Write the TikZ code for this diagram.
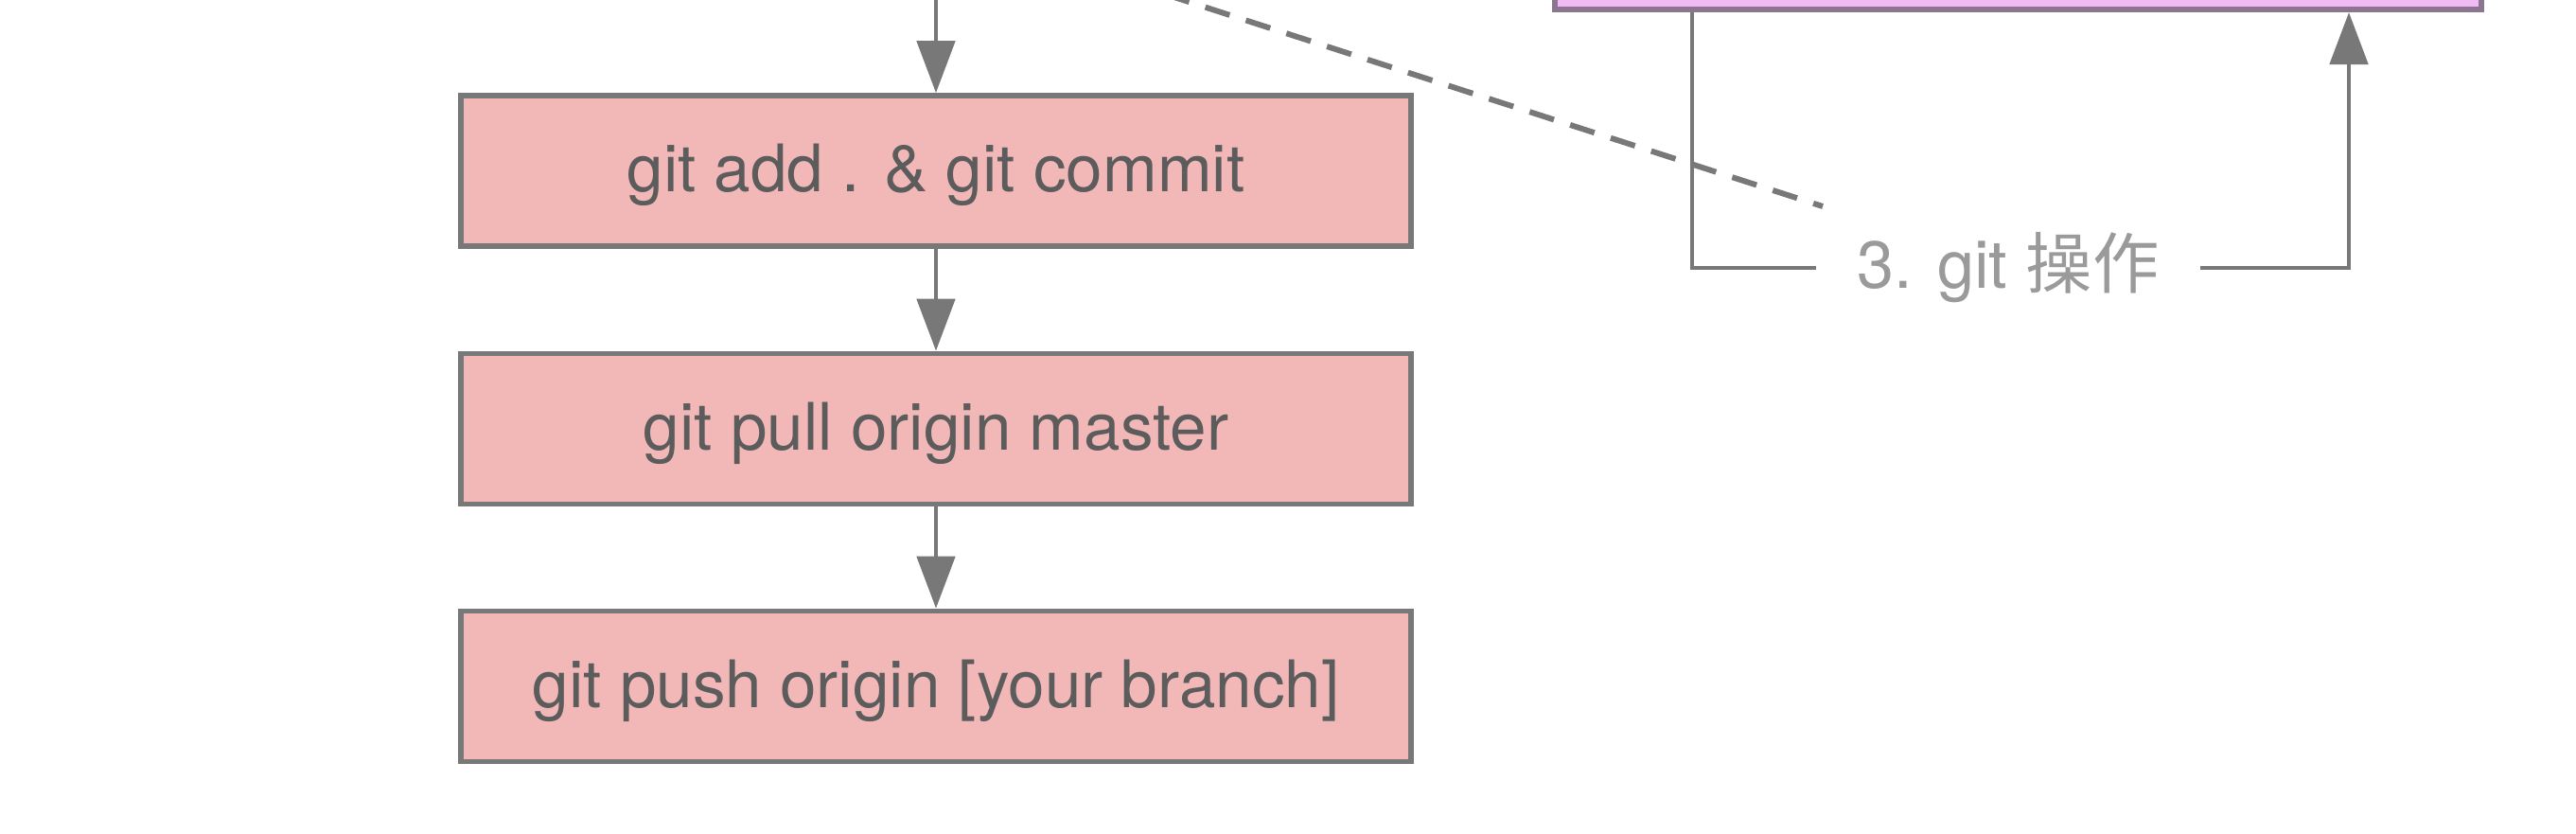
\documentclass[tikz,border=0pt]{standalone}
\usepackage{fontspec}
\setmainfont{TeX Gyre Heros}
\newfontfamily\cjk{Noto Sans CJK SC}
\usetikzlibrary{arrows.meta}
\definecolor{linegray}{HTML}{787878}
\definecolor{textgray}{HTML}{5C5C5C}
\definecolor{labelgray}{HTML}{9A9A9A}
\definecolor{cmdpink}{HTML}{F2B8B8}
\definecolor{webpurple}{HTML}{F0BBF4}
\definecolor{webborder}{HTML}{8C7590}
\begin{document}
\begin{tikzpicture}[
        cmd/.style={draw=linegray, line width=1.6pt, fill=cmdpink, text=textgray,
            minimum width=10.04cm, minimum height=1.59cm, text height=17pt, text depth=4.4pt,
            font=\fontsize{19.7}{24}\selectfont},
        conn/.style={draw=linegray, line width=1.4pt},
        flow/.style={conn, -{Triangle[length=5.5mm, width=4mm]}}
    ]
    \useasboundingbox (0, 0) rectangle (27.22, -8.8);
    \node[cmd] (commit) at (9.89, -1.805) {git add . \& git commit};
    \node[cmd] (pull) at (9.89, -4.53) {git pull origin master};
    \node[cmd] (push) at (9.89, -7.25) {git push origin [your branch]};
    \coordinate (top) at (9.89, 0.2);
    \draw[flow] (top) -- (commit);
    \draw[flow] (commit) -- (pull);
    \draw[flow] (pull) -- (push);
    % box above, cut by the top edge
    \node[draw=webborder, fill=webpurple, line width=1.6pt, minimum width=9.79cm,
        minimum height=2cm, anchor=south] (web) at (21.325, -0.13) {};
    \node[text=labelgray, font=\fontsize{20}{24}\selectfont, inner xsep=0.43cm]
        (gitop) at (21.22, -2.83) {3. git {\cjk 操作}};
    \coordinate (loopl) at (17.88, -2.83);
    \coordinate (loopr) at (24.82, -2.83);
    \draw[conn] (web.south -| loopl) -- (loopl) -- (gitop.west);
    \draw[flow] (gitop.east) -- (loopr) -- (web.south -| loopr);
    \coordinate (dashfrom) at (11.88, 0.2);
    \coordinate (dashto) at (19.26, -2.18);
    \draw[conn, line width=1.7pt, dash pattern=on 0.27cm off 0.18cm] (dashfrom) -- (dashto);
\end{tikzpicture}
\end{document}
